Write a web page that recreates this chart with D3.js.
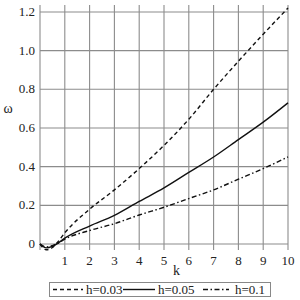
<!DOCTYPE html>
<html>
<head>
<meta charset="utf-8">
<script src="https://cdn.jsdelivr.net/npm/d3@7"></script>
<style>
  body { margin: 0; background: #fff; }
</style>
</head>
<body>
<div id="chart"></div>
<script>
var svgWidth = 300;
var svgHeight = 300;
var serif = "Liberation Serif, serif";

// data
var kValues    = [0, 0.25, 0.5, 0.7, 1, 2, 3, 4, 5, 6, 7, 8, 9, 10];
var omegaH003  = [0, -0.03, -0.018, 0.008, 0.058, 0.18, 0.28, 0.39, 0.51, 0.645, 0.8, 0.945, 1.085, 1.22];
var omegaH005  = [0, -0.02, -0.012, 0.002, 0.03, 0.093, 0.148, 0.22, 0.29, 0.37, 0.45, 0.54, 0.63, 0.73];
var omegaH01   = [0, -0.015, -0.008, 0.002, 0.025, 0.07, 0.105, 0.15, 0.19, 0.235, 0.28, 0.335, 0.39, 0.45];
var seriesNames = ["h=0.03", "h=0.05", "h=0.1"];
var xTicks = [1, 2, 3, 4, 5, 6, 7, 8, 9, 10];
var yTicks = [0, 0.2, 0.4, 0.6, 0.8, 1.0, 1.2];

var margin = { top: 5, right: 12, bottom: 50, left: 40 };
var width = svgWidth - margin.left - margin.right;
var height = svgHeight - margin.top - margin.bottom;

var svg = d3.select("#chart")
  .append("svg")
  .attr("width", svgWidth)
  .attr("height", svgHeight);

var g = svg.append("g")
  .attr("transform", `translate(${margin.left}, ${margin.top})`);

var x = d3.scaleLinear().domain([0, 10]).range([0, width]);
var y = d3.scaleLinear().domain([-0.031, 1.236]).range([height, 0]);

// grid
g.selectAll(".vgrid")
  .data([0].concat(xTicks))
  .enter()
  .append("line")
  .attr("x1", d => x(d)).attr("x2", d => x(d))
  .attr("y1", 0).attr("y2", height)
  .attr("stroke", "#8c8c8c")
  .attr("stroke-width", 1.1);

g.selectAll(".hgrid")
  .data(yTicks)
  .enter()
  .append("line")
  .attr("x1", 0).attr("x2", width)
  .attr("y1", d => y(d)).attr("y2", d => y(d))
  .attr("stroke", "#8c8c8c")
  .attr("stroke-width", 1.1);

// tick labels
g.selectAll(".xlab")
  .data(xTicks)
  .enter()
  .append("text")
  .attr("x", d => x(d))
  .attr("y", height + 15)
  .attr("text-anchor", "middle")
  .attr("font-family", serif)
  .attr("font-size", "13px")
  .attr("fill", "#222")
  .text(d => d);

g.selectAll(".ylab")
  .data(yTicks)
  .enter()
  .append("text")
  .attr("x", -5)
  .attr("y", d => y(d) + 4)
  .attr("text-anchor", "end")
  .attr("font-family", serif)
  .attr("font-size", "13px")
  .attr("fill", "#222")
  .text(d => d === 0 ? "0" : d.toFixed(1));

// axis titles
g.append("text")
  .attr("x", x(5.5))
  .attr("y", height + 25)
  .attr("text-anchor", "middle")
  .attr("font-family", serif)
  .attr("font-size", "14px")
  .attr("fill", "#222")
  .text("k");

svg.append("text")
  .attr("x", 8)
  .attr("y", 113)
  .attr("text-anchor", "middle")
  .attr("font-family", serif)
  .attr("font-size", "14px")
  .attr("fill", "#222")
  .text("ω");

// curves
var styles = ["4,3", null, "5,2.5,1.5,2.5"];
var allSeries = [omegaH003, omegaH005, omegaH01];

var line = d3.line()
  .x((d, i) => x(kValues[i]))
  .y(d => y(d))
  .curve(d3.curveMonotoneX);

allSeries.forEach(function(vals, i) {
  g.append("path")
    .datum(vals)
    .attr("d", line)
    .attr("fill", "none")
    .attr("stroke", "#111")
    .attr("stroke-width", 1.4)
    .attr("stroke-dasharray", styles[i]);
});

// legend
var legend = svg.append("g");
legend.append("rect")
  .attr("x", 49.5).attr("y", 282.5)
  .attr("width", 221).attr("height", 14)
  .attr("fill", "#fff")
  .attr("stroke", "#888");

var legendPos = [[53, 83, 86], [123, 155, 158], [203, 229, 235]];
seriesNames.forEach(function(name, i) {
  legend.append("line")
    .attr("x1", legendPos[i][0]).attr("x2", legendPos[i][1])
    .attr("y1", 289.5).attr("y2", 289.5)
    .attr("stroke", "#111")
    .attr("stroke-width", 1.4)
    .attr("stroke-dasharray", styles[i]);
  legend.append("text")
    .attr("x", legendPos[i][2])
    .attr("y", 294)
    .attr("font-family", serif)
    .attr("font-size", "13px")
    .attr("fill", "#222")
    .text(name);
});
</script>
</body>
</html>
